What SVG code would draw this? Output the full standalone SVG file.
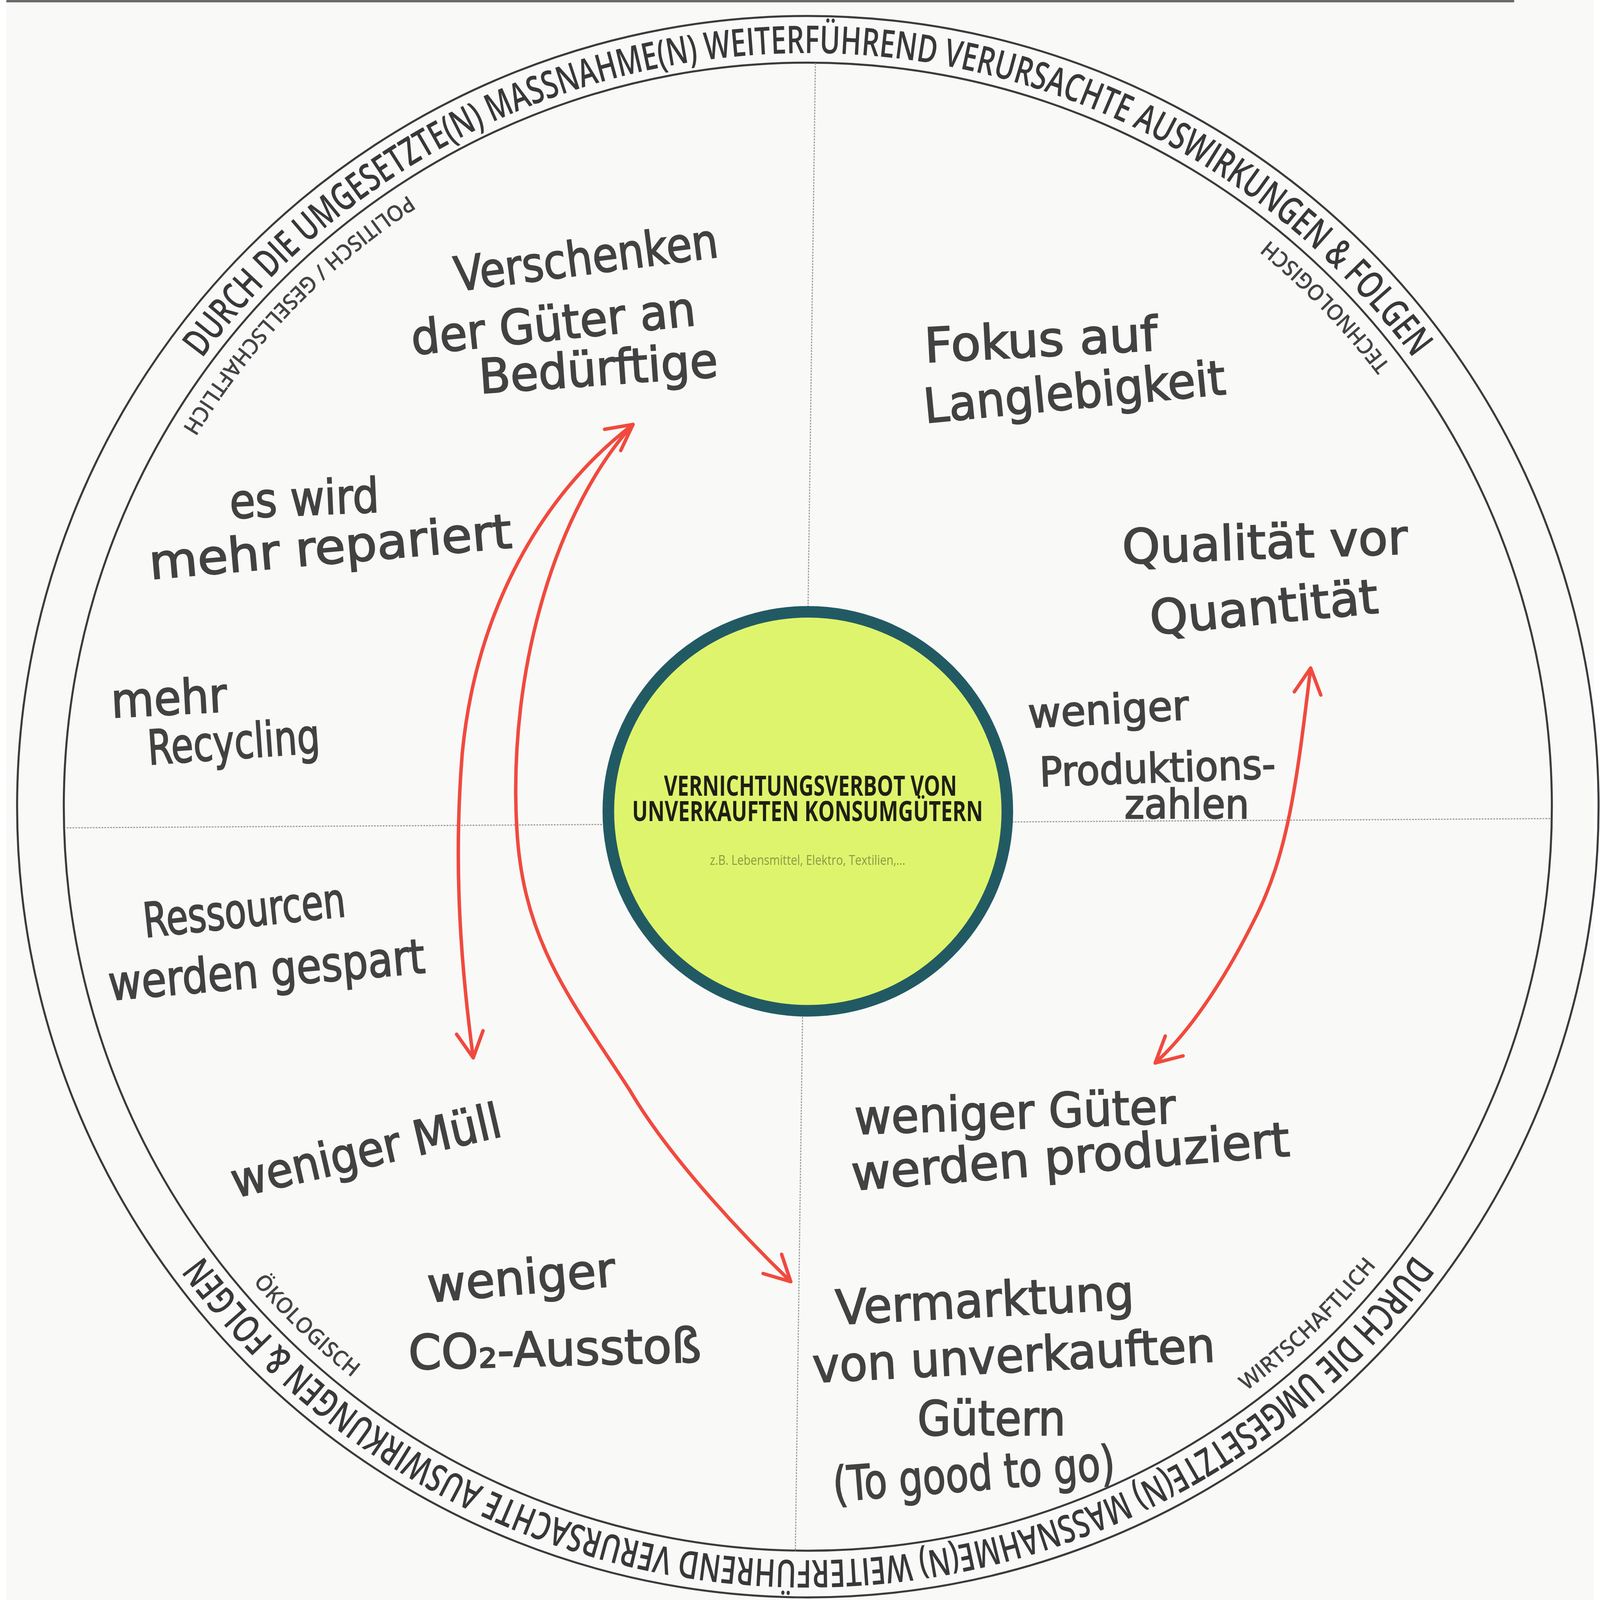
<svg xmlns="http://www.w3.org/2000/svg" width="5474" height="5518" viewBox="0 0 5474 5518" style="max-width:100vw;max-height:100vh">
  <style>
    .ring { fill: none; stroke: #3b3b3d; stroke-width: 7; }
    .divider { fill: none; stroke: #9c9c9c; stroke-width: 4; stroke-dasharray: 6 4; }
    .ringtext { font-family: "Open Sans", "Liberation Sans", sans-serif; font-weight: 600; font-size: 132px; fill: #38383a; }
    .quad { font-family: "Open Sans", "Liberation Sans", sans-serif; font-weight: 600; font-size: 76px; fill: #444446; }
    .hand { font-family: "DejaVu Sans", "Liberation Sans", sans-serif; font-size: 165px; fill: #424242; stroke: #424242; stroke-width: 4; }
    .hand-s { font-size: 140px; }
    .title { font-family: "Open Sans", "Liberation Sans", sans-serif; font-weight: 700; font-size: 96px; fill: #1f1f14; text-anchor: middle; }
    .sub { font-family: "Open Sans", "Liberation Sans", sans-serif; font-size: 46px; fill: #8c9a45; text-anchor: middle; }
    .arrow { fill: none; stroke: #f04a3e; stroke-width: 12; stroke-linecap: round; stroke-linejoin: round; }
  </style>
  <defs>
    <path id="ringPath" d="M 166,2782 A 2598,2598 0 1 1 5362,2782 A 2598,2598 0 1 1 166,2782"/>
    <path id="quadPath" d="M 5284,2782 A 2520,2520 0 1 0 244,2782 A 2520,2520 0 1 0 5284,2782"/>
    <marker id="head" viewBox="-110 -70 130 140" markerWidth="130" markerHeight="140" refX="0" refY="0" orient="auto-start-reverse" markerUnits="userSpaceOnUse">
      <path d="M -88,-46 L 0,0 L -88,46" fill="none" stroke="#f04a3e" stroke-width="12" stroke-linecap="round" stroke-linejoin="round"/>
    </marker>
  </defs>

  <rect x="0" y="0" width="5474" height="5518" fill="#f9f9f8"/>
  <line x1="0" y1="4" x2="5200" y2="4" stroke="#6a6a6a" stroke-width="8"/>

  <g id="frame">
    <circle class="ring" cx="2764" cy="2782" r="2727"/>
    <circle class="ring" cx="2764" cy="2782" r="2566"/>
    <line class="divider" x1="2790" y1="218" x2="2721" y2="5350"/>
    <line class="divider" x1="208" y1="2855" x2="5326" y2="2823"/>
  </g>

  <g id="ring-labels">
    <text class="ringtext"><textPath href="#ringPath" startOffset="4081" text-anchor="middle" textLength="4852" lengthAdjust="spacingAndGlyphs">DURCH DIE UMGESETZTE(N) MASSNAHME(N) WEITERFÜHREND VERURSACHTE AUSWIRKUNGEN &amp; FOLGEN</textPath></text>
    <text class="ringtext"><textPath href="#ringPath" startOffset="12243" text-anchor="middle" textLength="4852" lengthAdjust="spacingAndGlyphs">DURCH DIE UMGESETZTE(N) MASSNAHME(N) WEITERFÜHREND VERURSACHTE AUSWIRKUNGEN &amp; FOLGEN</textPath></text>
  </g>

  <g id="quadrant-labels">
    <text class="quad"><textPath href="#quadPath" startOffset="1935" text-anchor="middle" textLength="605" lengthAdjust="spacingAndGlyphs">TECHNOLOGISCH</textPath></text>
    <text class="quad"><textPath href="#quadPath" startOffset="5981" text-anchor="middle" textLength="1130" lengthAdjust="spacingAndGlyphs">POLITISCH / GESELLSCHAFTLICH</textPath></text>
    <text class="quad"><textPath href="#quadPath" startOffset="9940" text-anchor="middle" textLength="476" lengthAdjust="spacingAndGlyphs">ÖKOLOGISCH</textPath></text>
    <text class="quad"><textPath href="#quadPath" startOffset="13810" text-anchor="middle" textLength="625" lengthAdjust="spacingAndGlyphs">WIRTSCHAFTLICH</textPath></text>
  </g>

  <g id="center">
    <circle cx="2764" cy="2798" r="688" fill="#dff46d" stroke="#225a63" stroke-width="40"/>
    <text class="title" x="2773" y="2744" textLength="1010" lengthAdjust="spacingAndGlyphs">VERNICHTUNGSVERBOT VON</text>
    <text class="title" x="2763" y="2832" textLength="1210" lengthAdjust="spacingAndGlyphs">UNVERKAUFTEN KONSUMGÜTERN</text>
    <text class="sub" x="2763" y="2983" textLength="674" lengthAdjust="spacingAndGlyphs">z.B. Lebensmittel, Elektro, Textilien,...</text>
  </g>

  <g id="connectors">
    <path class="arrow" d="M 2161,1464 C 1850,1700 1620,2100 1572,2600 C 1540,3000 1570,3350 1610,3648" marker-start="url(#head)" marker-end="url(#head)"/>
    <path class="arrow" d="M 2161,1464 C 1900,1750 1730,2300 1760,2850 C 1780,3250 1950,3450 2150,3760 C 2290,4000 2560,4280 2705,4420" marker-end="url(#head)"/>
    <path class="arrow" d="M 4498,2304 C 4450,2700 4420,2950 4300,3180 C 4200,3380 4080,3560 3962,3666" marker-start="url(#head)" marker-end="url(#head)"/>
  </g>

  <g id="n-verschenken">
    <text class="hand" x="1553" y="1005" transform="rotate(-7.5 1553 1005)" textLength="915" lengthAdjust="spacingAndGlyphs">Verschenken</text>
    <text class="hand" x="1402" y="1224" transform="rotate(-6 1402 1224)" textLength="985" lengthAdjust="spacingAndGlyphs">der Güter an</text>
    <text class="hand" x="1634" y="1357" transform="rotate(-4 1634 1357)" textLength="825" lengthAdjust="spacingAndGlyphs">Bedürftige</text>
  </g>
  <g id="n-repariert">
    <text class="hand" x="772" y="1788" transform="rotate(-2.5 772 1788)" textLength="516" lengthAdjust="spacingAndGlyphs">es wird</text>
    <text class="hand" x="497" y="1998" transform="rotate(-5 497 1998)" textLength="1255" lengthAdjust="spacingAndGlyphs">mehr repariert</text>
  </g>
  <g id="n-recycling">
    <text class="hand" x="364" y="2475" transform="rotate(-3 364 2475)" textLength="400" lengthAdjust="spacingAndGlyphs">mehr</text>
    <text class="hand" x="491" y="2637" transform="rotate(-4 491 2637)" textLength="595" lengthAdjust="spacingAndGlyphs">Recycling</text>
  </g>
  <g id="n-ressourcen">
    <text class="hand" x="478" y="3233" transform="rotate(-6 478 3233)" textLength="700" lengthAdjust="spacingAndGlyphs">Ressourcen</text>
    <text class="hand" x="357" y="3450" transform="rotate(-5 357 3450)" textLength="1095" lengthAdjust="spacingAndGlyphs">werden gespart</text>
  </g>
  <g id="n-muell">
    <text class="hand" x="790" y="4131" transform="rotate(-13 790 4131)" textLength="950" lengthAdjust="spacingAndGlyphs">weniger Müll</text>
  </g>
  <g id="n-co2">
    <text class="hand" x="1457" y="4491" transform="rotate(-5 1457 4491)" textLength="650" lengthAdjust="spacingAndGlyphs">weniger</text>
    <text class="hand" x="1388" y="4723" transform="rotate(-1.5 1388 4723)" textLength="1010" lengthAdjust="spacingAndGlyphs">CO₂-Ausstoß</text>
  </g>
  <g id="n-langlebigkeit">
    <text class="hand" x="3169" y="1250" transform="rotate(-3 3169 1250)" textLength="805" lengthAdjust="spacingAndGlyphs">Fokus auf</text>
    <text class="hand" x="3169" y="1459" transform="rotate(-5.5 3169 1459)" textLength="1045" lengthAdjust="spacingAndGlyphs">Langlebigkeit</text>
  </g>
  <g id="n-qualitaet">
    <text class="hand" x="3850" y="1944" transform="rotate(-2 3850 1944)" textLength="985" lengthAdjust="spacingAndGlyphs">Qualität vor</text>
    <text class="hand" x="3949" y="2189" transform="rotate(-5.5 3949 2189)" textLength="790" lengthAdjust="spacingAndGlyphs">Quantität</text>
  </g>
  <g id="n-produktionszahlen">
    <text class="hand hand-s" x="3526" y="2510" transform="rotate(-3 3526 2510)" textLength="555" lengthAdjust="spacingAndGlyphs">weniger</text>
    <text class="hand hand-s" x="3565" y="2712" transform="rotate(-2 3565 2712)" textLength="814" lengthAdjust="spacingAndGlyphs">Produktions-</text>
    <text class="hand hand-s" x="3856" y="2822" textLength="430" lengthAdjust="spacingAndGlyphs">zahlen</text>
  </g>
  <g id="n-gueter">
    <text class="hand" x="2927" y="3912" transform="rotate(-2 2927 3912)" textLength="1108" lengthAdjust="spacingAndGlyphs">weniger Güter</text>
    <text class="hand" x="2919" y="4105" transform="rotate(-4.5 2919 4105)" textLength="1515" lengthAdjust="spacingAndGlyphs">werden produziert</text>
  </g>
  <g id="n-vermarktung">
    <text class="hand" x="2863" y="4568" transform="rotate(-3 2863 4568)" textLength="1030" lengthAdjust="spacingAndGlyphs">Vermarktung</text>
    <text class="hand" x="2783" y="4768" transform="rotate(-3 2783 4768)" textLength="1390" lengthAdjust="spacingAndGlyphs">von unverkauften</text>
    <text class="hand" x="3142" y="4950" textLength="511" lengthAdjust="spacingAndGlyphs">Gütern</text>
    <text class="hand" x="2855" y="5178" transform="rotate(-4.5 2855 5178)" textLength="975" lengthAdjust="spacingAndGlyphs">(To good to go)</text>
  </g>
</svg>
